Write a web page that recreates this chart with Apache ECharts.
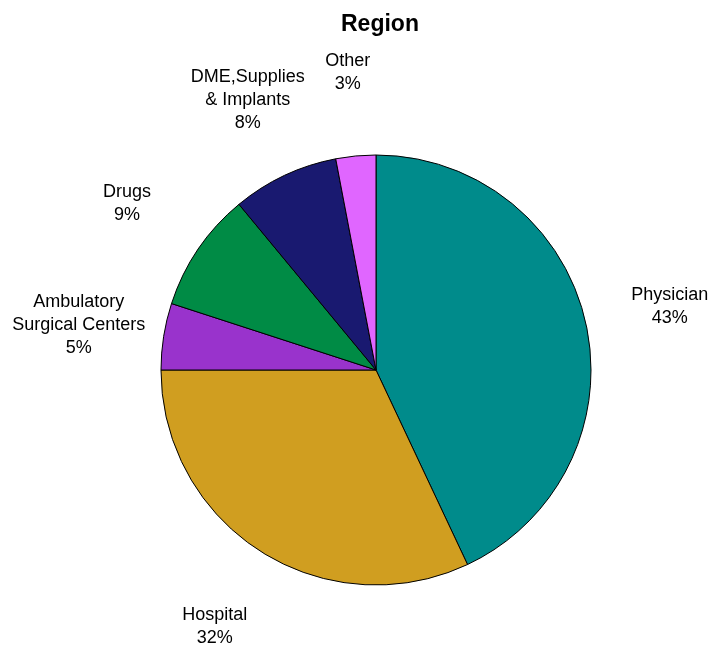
<!DOCTYPE html>
<html><head><meta charset="utf-8">
<script src="https://cdn.jsdelivr.net/npm/echarts@6/dist/echarts.min.js"></script>
<style>html,body{margin:0;padding:0;background:#fff}#c{width:714px;height:645px}</style>
</head><body><div id="c"></div>
<script>
var categories = ['Physician', 'Hospital', 'Ambulatory\nSurgical Centers', 'Drugs', 'DME,Supplies\n& Implants', 'Other'];
var values = [43, 32, 5, 9, 8, 3];
var colors = ['#008B8B', '#D09E20', '#9933CC', '#008B45', '#191970', '#E066FF'];

var chart = echarts.init(document.getElementById('c'), null, {renderer: 'canvas'});
var data = categories.map(function (c, i) {
  return {name: c, value: values[i], itemStyle: {color: colors[i]}};
});
var labelData = categories.map(function (c, i) {
  return {name: c, value: values[i]};
});
chart.setOption({
  animation: false,
  backgroundColor: '#fff',
  title: {
    text: 'Region', left: 336, top: 8,
    textStyle: {fontFamily: 'Liberation Sans, Arial', fontSize: 23, fontWeight: 'bold', color: '#000'}
  },
  series: [{
    type: 'pie',
    center: [376, 370],
    radius: [0, 215],
    startAngle: 90,
    clockwise: true,
    silent: true,
    data: data,
    itemStyle: {borderColor: '#000', borderWidth: 1},
    label: {show: false},
    labelLine: {show: false}
  }, {
    type: 'pie',
    center: [376, 372.5],
    radius: [0, 596],
    startAngle: 90,
    clockwise: true,
    silent: true,
    z: 5,
    data: labelData,
    itemStyle: {color: 'rgba(0,0,0,0)', borderWidth: 0},
    emphasis: {disabled: true},
    label: {
      show: true,
      position: 'inside',
      formatter: function (p) { return p.name + '\n' + p.value + '%'; },
      fontFamily: 'Liberation Sans, Arial',
      fontSize: 18,
      lineHeight: 23,
      color: '#000',
      align: 'center'
    },
    labelLine: {show: false}
  }]
});
</script>
</body></html>
